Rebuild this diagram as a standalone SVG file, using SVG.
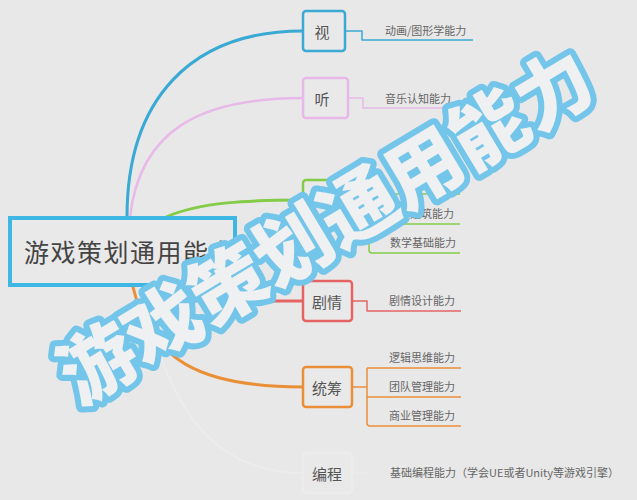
<svg xmlns="http://www.w3.org/2000/svg" width="637" height="500" viewBox="0 0 637 500">
<style>
.bg{fill:#e8e8e8}
.node{fill:#e9e9e9;stroke-width:2.5}
.nt{font-family:"Noto Sans CJK SC","Noto Sans",sans-serif;font-size:15px;fill:#555;text-anchor:middle;dominant-baseline:central}
.ct{font-family:"Noto Sans CJK SC","Noto Sans",sans-serif;font-size:11px;fill:#666}
.link{fill:none;stroke-linecap:round}
.sub{fill:none;stroke-width:1.5;stroke-linejoin:round}
.wm{font-family:"Noto Sans CJK SC",sans-serif;font-weight:900;font-size:76px;fill:#eef0f1;stroke:#74c5ea;stroke-width:12;stroke-linejoin:round;paint-order:stroke fill;text-anchor:middle;dominant-baseline:central}
</style>
<rect class="bg" x="0" y="0" width="637" height="500"/>
<g id="connectors">
<path class="link" d="M127,217 C127,100 190,31 303,31" stroke="#3aa9d3" stroke-width="3"/>
<path class="link" d="M130,217 C140,130 200,98 303,98" stroke="#e8b9e8" stroke-width="2.5"/>
<path class="link" d="M166,217 C200,202 250,200 303,200" stroke="#84cc48" stroke-width="3"/>
<path class="link" d="M235,301 L303,301" stroke="#e46464" stroke-width="3"/>
<path class="link" d="M133,287 C150,360 200,387 303,387" stroke="#ea8f38" stroke-width="3"/>
<path class="link" d="M140,287 C170,420 220,473 303,473" stroke="#ececec" stroke-width="2"/>
<path class="sub" d="M345,31 H362 V40 H473" stroke="#3aa9d3"/>
<path class="sub" d="M348,98 H363 V108 H453" stroke="#e8b9e8"/>
<path class="sub" d="M348,200 H369 M369,194 V250 Q369,253 372,253 H460 M369,194 H460 M369,224 H460" stroke="#84cc48"/>
<path class="sub" d="M352,301 H367 V311 H461" stroke="#e46464"/>
<path class="sub" d="M352,387 H367 M367,368 V423 Q367,426 370,426 H461 M367,368 H461 M367,397 H461" stroke="#ea8f38"/>
<path class="sub" d="M352,473 H367" stroke="#ececec"/>
</g>
<g id="root">
<rect x="10" y="218" width="225" height="67" fill="#e9e9e9" stroke="#3fb7e4" stroke-width="4"/>
<text x="24" y="262" font-family="Noto Sans CJK SC,Noto Sans,sans-serif" font-size="25" letter-spacing="1.5" fill="#444">游戏策划通用能力</text>
</g>
<g id="n-shi">
<rect class="node" x="303" y="11" width="42" height="40" rx="3" stroke="#3aa9d3"/>
<text class="nt" x="322" y="31">视</text>
<text class="ct" x="385" y="35">动画/图形学能力</text>
</g>
<g id="n-ting">
<rect class="node" x="303" y="78" width="45" height="40" rx="3" stroke="#e8b9e8"/>
<text class="nt" x="322" y="98">听</text>
<text class="ct" x="385" y="103">音乐认知能力</text>
</g>
<g id="n-green">
<rect class="node" x="303" y="180" width="45" height="40" rx="3" stroke="#84cc48"/>
<text class="ct" x="410" y="218">建筑能力</text>
<text class="ct" x="390" y="247">数学基础能力</text>
</g>
<g id="n-juqing">
<rect class="node" x="303" y="281" width="49" height="40" rx="3" stroke="#e46464"/>
<text class="nt" x="327" y="301">剧情</text>
<text class="ct" x="389" y="305">剧情设计能力</text>
</g>
<g id="n-tongchou">
<rect class="node" x="303" y="367" width="49" height="40" rx="3" stroke="#ea8f38"/>
<text class="nt" x="327" y="387">统筹</text>
<text class="ct" x="389" y="362">逻辑思维能力</text>
<text class="ct" x="389" y="391">团队管理能力</text>
<text class="ct" x="389" y="420">商业管理能力</text>
</g>
<g id="n-biancheng">
<rect class="node" x="303" y="453" width="49" height="40" rx="3" stroke="#ececec"/>
<text class="nt" x="327" y="473">编程</text>
<text class="ct" x="390" y="477">基础编程能力（学会UE或者Unity等游戏引擎）</text>
</g>
<g id="watermark">
<text class="wm" transform="translate(323,222) rotate(-31)">游戏策划通用能力</text>
</g>
</svg>
